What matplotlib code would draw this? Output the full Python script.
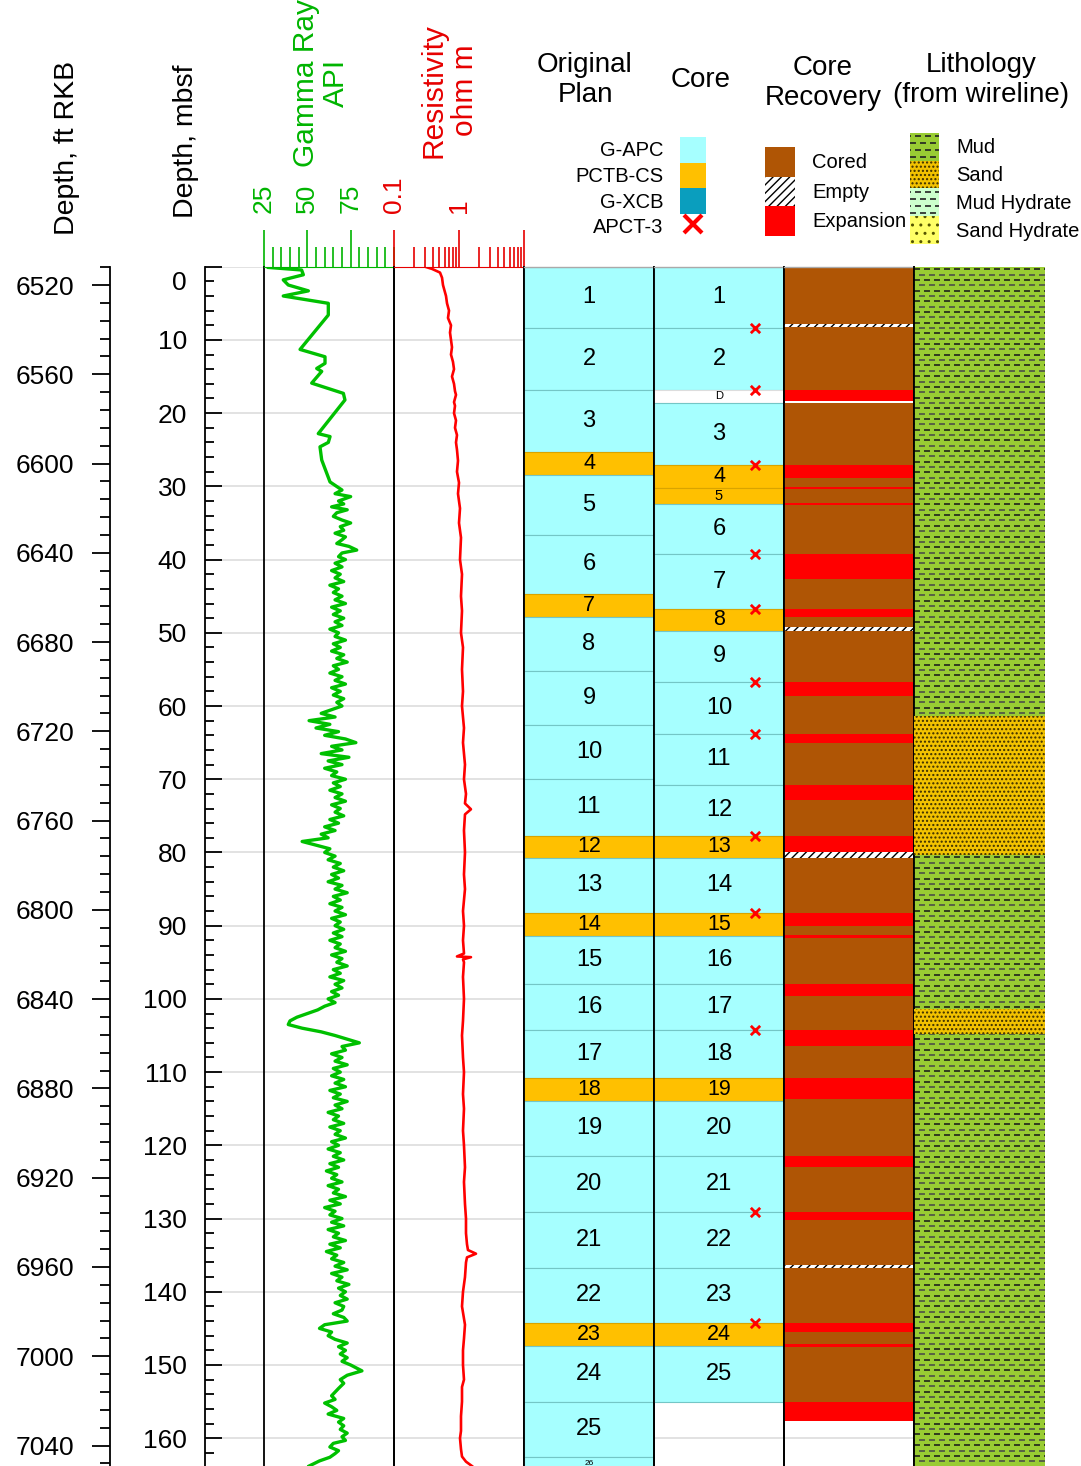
import numpy as np
import matplotlib
matplotlib.use('Agg')
import matplotlib.pyplot as plt
from matplotlib.patches import Patch, Rectangle
from matplotlib.lines import Line2D
from matplotlib.legend_handler import HandlerBase
from matplotlib.ticker import MultipleLocator, FixedLocator, FixedFormatter, LogLocator, NullFormatter, NullLocator, FuncFormatter

plt.rcParams['font.family'] = ['Liberation Sans', 'DejaVu Sans']
plt.rcParams['lines.scale_dashes'] = False
plt.rcParams['hatch.linewidth'] = 1.0

# ---- data (depth in mbsf) ----
# gamma ray log (API)
gr_depth = [0.1, 0.45, 1.1, 1.8, 2.5, 3.3, 4.0, 5.0, 6.6, 11.3, 12.3, 13.2, 13.9, 14.3, 15.9, 17.3, 18.2,
            22.8, 23.2, 24.0, 24.6, 26.4, 29.4, 30.0,
            30.5, 31.0, 31.4, 32.0, 32.4, 32.8, 33.2, 33.6, 34.1, 34.6, 35.0, 35.5, 36.0, 36.4, 36.9, 37.3, 37.8, 38.2, 38.7, 39.1, 39.6,
            40.0, 40.5, 41.0, 41.5, 42.0, 42.5, 43.0, 43.5, 44.0, 44.5, 45.0, 45.5, 46.0, 46.5, 47.0, 47.5, 48.0, 48.5, 49.0, 49.5,
            50.0, 50.5, 51.0, 51.5, 52.0, 52.5, 53.0, 53.5, 54.0, 54.5, 55.0, 55.5, 56.0, 56.5, 57.0, 57.5, 58.0, 58.5, 59.0, 59.5,
            60.0, 60.5, 61.0, 61.5, 62.0, 62.5, 63.0, 63.5, 64.0, 64.5, 65.0, 65.5, 66.0, 66.5, 67.0, 67.5, 68.0, 68.5, 69.0, 69.5,
            70.0, 70.5, 71.0, 71.5, 72.0, 72.5, 73.0, 73.5, 74.0, 74.5, 75.0, 75.5, 76.0, 76.5, 77.0, 77.5, 78.0, 78.5, 79.0, 79.5,
            80.0, 80.5, 81.0, 81.5, 82.0, 82.5, 83.0, 83.5, 84.0, 84.5, 85.0, 85.5, 86.0, 86.5, 87.0, 87.5, 88.0, 88.5, 89.0, 89.5,
            90.0, 90.5, 91.0, 91.5, 92.0, 92.5, 93.0, 93.5, 94.0, 94.5, 95.0, 95.5, 96.0, 96.5, 97.0, 97.5, 98.0, 98.5, 99.0, 99.5,
            100.0, 100.5, 101.0, 101.5, 102.0, 102.5, 103.0, 103.5, 104.0, 104.5, 105.0, 105.5, 106.0, 106.5, 107.0, 107.5, 108.0, 108.5, 109.0, 109.5,
            110.0, 110.5, 111.0, 111.5, 112.0, 112.5, 113.0, 113.5, 114.0, 114.5, 115.0, 115.5, 116.0, 116.5, 117.0, 117.5, 118.0, 118.5, 119.0, 119.5,
            120.0, 120.5, 121.0, 121.5, 122.0, 122.5, 123.0, 123.5, 124.0, 124.5, 125.0, 125.5, 126.0, 126.5, 127.0, 127.5, 128.0, 128.5, 129.0, 129.5,
            130.0, 130.5, 131.0, 131.5, 132.0, 132.5, 133.0, 133.5, 134.0, 134.5, 135.0, 135.5, 136.0, 136.5, 137.0, 137.5, 138.0, 138.5, 139.0, 139.5,
            140.0, 140.5, 141.0, 141.5, 142.0, 142.5, 143.0, 143.5, 144.0, 144.5, 145.0, 145.5, 146.0, 146.5, 147.0, 147.5, 148.0, 148.5, 149.0, 149.5,
            150.0, 150.8, 151.4, 152.0, 152.5, 153.2, 153.7, 154.2, 154.7, 155.2, 155.7, 156.2, 156.7, 157.3, 157.8, 158.3, 158.8, 159.3, 159.8,
            160.3, 160.7, 161.2, 161.7, 162.1, 162.6, 163.1, 163.8]
gr_api = [27.5, 46.7, 47.7, 36.1, 39.0, 50.6, 36.1, 62.1, 62.1, 45.8, 60.2, 60.2, 55.4, 58.3, 52.5, 70.8, 71.7,
          56.3, 63.1, 62.1, 57.3, 58.3, 63.1, 66.9,
          70, 66, 75, 68, 71, 64, 73, 67, 65, 70, 75, 69, 71, 66, 72, 70, 67, 74, 78.5, 70, 68,
          72, 66, 70, 64, 69, 66, 71, 63, 68, 65, 70, 66, 72, 64, 69, 65, 71, 66, 70, 63,
          68, 66, 72, 65, 69, 64, 71, 67, 73, 65, 68, 63, 70, 66, 72, 64, 69, 65, 71, 67,
          70, 64, 58, 66, 51, 63, 55, 68, 60, 72, 78, 64, 70, 58, 74, 62, 70, 60, 67, 64,
          72, 65, 69, 63, 70, 66, 72, 64, 69, 66, 71, 63, 68, 60, 66, 58, 62, 47, 55, 63,
          60, 66, 62, 69, 65, 71, 64, 68, 62, 70, 66, 73, 65, 69, 63, 70, 66, 72, 64, 69,
          66, 71, 65, 70, 63, 69, 66, 72, 64, 70, 67, 73, 65, 69, 63, 71, 66, 70, 64, 68,
          62, 66, 60, 56, 50, 44, 40, 39, 47, 58, 66, 73, 80, 70, 72, 64, 70, 66, 73, 65,
          69, 64, 71, 66, 72, 63, 69, 65, 73, 66, 70, 62, 68, 65, 71, 63, 69, 66, 72, 64,
          68, 62, 69, 65, 71, 63, 68, 61, 67, 64, 70, 62, 68, 65, 72, 63, 69, 60, 66, 63,
          70, 64, 71, 62, 68, 65, 72, 63, 69, 61, 67, 64, 71, 66, 73, 64, 70, 67, 74, 68,
          72, 69, 73, 66, 71, 70, 65, 71, 73, 60, 57, 64, 62, 66, 73, 68, 72, 69, 73, 70,
          75, 81.5, 73, 69, 71, 68, 66, 64, 66, 60, 64, 67, 62, 71, 68, 71, 69, 73, 70,
          72, 65, 63, 68, 66, 63, 57, 51]

# resistivity log (ohm m)
res_depth = [0.0, 0.3, 0.8, 1.5, 2.5, 4.0, 5.0, 6.0, 7.0, 8.0, 9.0, 10.0, 11.0, 12.0, 13.0, 14.0, 15.0, 16.0,
             17.0, 17.5, 18.5, 19.0, 20.0, 21.0, 22.0, 23.0, 24.0, 25.0, 26.5, 28.0, 29.5, 31.0, 33.0, 35.0,
             37.0, 40.0, 42.0, 45.0, 47.0, 50.0, 52.0, 55.0, 58.0, 60.0, 63.0, 65.0, 68.0, 70.0, 72.0, 73.3,
             74.1, 74.8, 77.0, 80.0, 83.0, 85.0, 88.0, 90.0, 92.0, 93.8, 94.2, 94.3, 94.6, 95.0, 97.0, 100.0,
             103.0, 105.0, 108.0, 110.0, 113.0, 115.0, 118.0, 120.0, 123.0, 125.0, 128.0, 130.0, 132.0, 133.5,
             134.3, 134.8, 135.3, 136.0, 138.0, 140.0, 142.0, 144.5, 146.4, 148.0, 150.0, 152.0, 153.0, 155.0,
             157.0, 159.0, 160.0, 161.5, 162.5, 163.2, 163.8]
res_ohm = [0.300, 0.384, 0.510, 0.548, 0.567, 0.631, 0.654, 0.702, 0.677, 0.753, 0.727, 0.753, 0.780, 0.753,
           0.808, 0.838, 0.780, 0.838, 0.868, 0.899, 0.838, 0.868, 0.838, 0.899, 0.868, 0.931, 0.899, 0.931,
           0.965, 0.931, 1.000, 0.965, 1.036, 1.000, 1.073, 1.036, 1.112, 1.073, 1.112, 1.073, 1.152, 1.112,
           1.152, 1.112, 1.193, 1.152, 1.236, 1.193, 1.281, 1.236, 1.528, 1.236, 1.193, 1.236, 1.193, 1.236,
           1.152, 1.193, 1.152, 1.193, 0.931, 1.528, 1.152, 1.193, 1.152, 1.193, 1.152, 1.112, 1.152, 1.193,
           1.152, 1.193, 1.152, 1.193, 1.236, 1.193, 1.236, 1.281, 1.281, 1.327, 1.374, 1.826, 1.327, 1.281,
           1.236, 1.152, 1.112, 1.236, 1.193, 1.152, 1.152, 1.193, 1.112, 1.112, 1.073, 1.073, 1.036, 1.073,
           1.112, 1.281, 1.583]

# original coring plan
plan_top = [0.0, 8.4, 16.8, 25.3, 28.4, 36.6, 44.7, 47.9, 55.2, 62.6, 70.0, 77.7, 80.7, 88.3, 91.4, 97.9,
            104.2, 110.8, 113.9, 121.5, 129.1, 136.7, 144.3, 147.4, 155.0, 162.5]
plan_bot = [8.4, 16.8, 25.3, 28.4, 36.6, 44.7, 47.9, 55.2, 62.6, 70.0, 77.7, 80.7, 88.3, 91.4, 97.9, 104.2,
            110.8, 113.9, 121.5, 129.1, 136.7, 144.3, 147.4, 155.0, 162.5, 170.0]
plan_tool = ['G-APC', 'G-APC', 'G-APC', 'PCTB-CS', 'G-APC', 'G-APC', 'PCTB-CS', 'G-APC', 'G-APC', 'G-APC',
             'G-APC', 'PCTB-CS', 'G-APC', 'PCTB-CS', 'G-APC', 'G-APC', 'G-APC', 'PCTB-CS', 'G-APC', 'G-APC',
             'G-APC', 'G-APC', 'PCTB-CS', 'G-APC', 'G-APC', 'G-APC']
plan_label = [str(i) for i in range(1, 27)]

# cores actually taken
core_top = [0.0, 8.4, 16.8, 18.6, 27.1, 30.2, 32.4, 39.3, 46.7, 49.7, 56.7, 63.8, 70.8, 77.7, 80.7, 88.3,
            91.4, 97.9, 104.2, 110.8, 113.9, 121.5, 129.1, 136.7, 144.3, 147.4]
core_bot = [8.4, 16.8, 18.6, 27.1, 30.2, 32.4, 39.3, 46.7, 49.7, 56.7, 63.8, 70.8, 77.7, 80.7, 88.3, 91.4,
            97.9, 104.2, 110.8, 113.9, 121.5, 129.1, 136.7, 144.3, 147.4, 155.0]
core_tool = ['G-APC', 'G-APC', 'drilled', 'G-APC', 'PCTB-CS', 'PCTB-CS', 'G-APC', 'G-APC', 'PCTB-CS', 'G-APC',
             'G-APC', 'G-APC', 'G-APC', 'PCTB-CS', 'G-APC', 'PCTB-CS', 'G-APC', 'G-APC', 'G-APC', 'PCTB-CS',
             'G-APC', 'G-APC', 'G-APC', 'G-APC', 'PCTB-CS', 'G-APC']
core_label = ['1', '2', 'D', '3', '4', '5', '6', '7', '8', '9', '10', '11', '12', '13', '14', '15', '16',
              '17', '18', '19', '20', '21', '22', '23', '24', '25']
apct3_depth = [8.4, 16.8, 27.1, 39.3, 46.7, 56.7, 63.8, 77.7, 88.3, 104.2, 129.1, 144.3]

# core recovery
exp_top = [16.8, 27.1, 30.1, 32.3, 39.3, 46.7, 56.7, 63.8, 70.8, 77.7, 88.3, 91.3, 97.9, 104.2, 110.8,
           121.5, 129.1, 144.3, 147.2, 155.0]
exp_bot = [18.3, 28.8, 30.3, 32.5, 42.7, 47.8, 58.6, 65.0, 72.9, 79.9, 90.1, 91.7, 99.6, 106.4, 113.7,
           123.0, 130.2, 145.5, 147.6, 157.7]
empty_top = [7.8, 49.2, 79.9, 136.3]
empty_bot = [8.3, 49.7, 80.7, 136.7]

# lithology from wireline
sand_top = [61.3, 101.4]
sand_bot = [80.4, 104.8]

# ---- layout (pixels of the 1081 x 1466 canvas) ----
W, H = 1081, 1466
TOP = 266.7
PX_PER_M = 7.322
DMAX = (H - TOP) / PX_PER_M
FT0 = 6511.8          # ft RKB at 0 mbsf
M2FT = 3.28084

C_APC = '#A6FFFF'
C_PCTB = '#FFC000'
C_XCB = '#0A9EBE'
C_CORED = '#AF5505'
C_EXP = '#FF0000'
C_MUD = '#99CC33'
C_SAND = '#F2C200'
C_MUDHYD = '#CCFFCC'
C_SANDHYD = '#FFFF66'
GREEN = '#00B400'
RED = '#E60000'
tool_color = {'G-APC': C_APC, 'PCTB-CS': C_PCTB, 'G-XCB': C_XCB, 'drilled': 'white'}
tool_edge = {'G-APC': '#74C6C6', 'PCTB-CS': '#D9A400', 'G-XCB': '#087890', 'drilled': '#DDDDDD'}

fig = plt.figure(figsize=(W / 100, H / 100), dpi=100)


def track(x0, x1):
    return fig.add_axes([x0 / W, 0, (x1 - x0) / W, (H - TOP) / H])


# depth axis + grid behind everything
ax_m = track(205, 914)
ax_m.set_facecolor('none')
ax_m.set_ylim(DMAX, 0)
ax_m.set_xlim(0, 1)
for s in ['top', 'right', 'bottom']:
    ax_m.spines[s].set_visible(False)
ax_m.spines['left'].set_linewidth(1.3)
ax_m.xaxis.set_major_locator(NullLocator())
ax_m.yaxis.set_major_locator(MultipleLocator(10))
ax_m.yaxis.set_minor_locator(MultipleLocator(2))
ax_m.yaxis.set_major_formatter(FuncFormatter(lambda v, p: '' if v == 0 else f'{v:.0f}'))
ax_m.tick_params(axis='y', which='major', direction='in', length=12, width=1.3, labelsize=19, pad=13)
ax_m.tick_params(axis='y', which='minor', direction='in', length=6.5, width=1.3)
ax_m.grid(axis='y', which='major', color='#DDDDDD', lw=1.2)
ax_m.annotate('0', xy=(0, 0), xycoords=('axes fraction', 'data'), xytext=(-13, -11.5),
              textcoords='offset points', ha='right', va='center', fontsize=19)

ax_ft = ax_m.secondary_yaxis((110 - 205) / (914 - 205),
                             functions=(lambda m: FT0 + m * M2FT, lambda f: (f - FT0) / M2FT))
ax_ft.yaxis.set_major_locator(MultipleLocator(40))
ax_ft.yaxis.set_minor_locator(MultipleLocator(8))
ax_ft.tick_params(axis='y', which='major', direction='out', length=13, width=1.3, labelsize=19, pad=13)
ax_ft.tick_params(axis='y', which='minor', direction='out', length=7, width=1.3)
ax_ft.spines['left'].set_linewidth(1.3)

# gamma ray track
ax_gr = track(264, 394)
ax_gr.set_facecolor('none')
ax_gr.plot(gr_api, gr_depth, color='#00C000', lw=2.4)
ax_gr.set_xlim(25, 100)
ax_gr.set_ylim(DMAX, 0)
ax_gr.xaxis.tick_top()
ax_gr.xaxis.set_major_locator(FixedLocator([25, 50, 75]))
ax_gr.xaxis.set_minor_locator(MultipleLocator(5))
ax_gr.tick_params(axis='x', which='both', direction='out', colors=GREEN, width=1.2,
                  labelsize=19, labelrotation=90, pad=12)
ax_gr.tick_params(axis='x', which='major', length=26.6)
ax_gr.tick_params(axis='x', which='minor', length=14.4)
ax_gr.yaxis.set_major_locator(NullLocator())
ax_gr.spines['top'].set_color(GREEN)
ax_gr.spines['bottom'].set_visible(False)
for s in ['left', 'right']:
    ax_gr.spines[s].set_linewidth(1.3)

# resistivity track
ax_res = track(394, 524)
ax_res.set_facecolor('none')
ax_res.plot(res_ohm, res_depth, color='#FF0000', lw=1.9)
ax_res.set_xscale('log')
ax_res.set_xlim(0.1, 10)
ax_res.set_ylim(DMAX, 0)
ax_res.xaxis.tick_top()
ax_res.xaxis.set_major_locator(FixedLocator([0.1, 1, 10]))
ax_res.xaxis.set_major_formatter(FixedFormatter(['0.1', '1', '']))
ax_res.xaxis.set_minor_locator(LogLocator(base=10, subs=np.arange(2, 10)))
ax_res.xaxis.set_minor_formatter(NullFormatter())
ax_res.tick_params(axis='x', which='both', direction='out', colors=RED, width=1.2,
                   labelsize=19, labelrotation=90, pad=12)
ax_res.tick_params(axis='x', which='major', length=26.6)
ax_res.tick_params(axis='x', which='minor', length=14.4)
ax_res.yaxis.set_major_locator(NullLocator())
ax_res.spines['top'].set_color(RED)
ax_res.spines['bottom'].set_visible(False)
for s in ['left', 'right']:
    ax_res.spines[s].set_linewidth(1.3)


def column(x0, x1):
    ax = track(x0, x1)
    ax.set_facecolor('none')
    ax.set_xlim(0, 1)
    ax.set_ylim(DMAX, 0)
    ax.set_xticks([])
    ax.set_yticks([])
    ax.spines['bottom'].set_visible(False)
    ax.spines['top'].set_color('#AAAAAA')
    ax.spines['top'].set_linewidth(1)
    for s in ['left', 'right']:
        ax.spines[s].set_linewidth(1.3)
    return ax


def label_size(top, bot, tool):
    if tool == 'drilled':
        return 8
    if bot - top < 2.6:
        return 10.5
    return 17 if tool == 'G-APC' else 15.5


# original plan
ax_plan = column(524, 654)
ax_plan.bar(0.5, np.subtract(plan_bot, plan_top), bottom=plan_top, width=1,
            color=[tool_color[t] for t in plan_tool], edgecolor=[tool_edge[t] for t in plan_tool], lw=0.8)
for t, b, tool, lab in zip(plan_top, plan_bot, plan_tool, plan_label):
    mid = (t + b) / 2
    if mid > DMAX:
        ax_plan.text(0.5, t + 0.5, lab, ha='center', va='top', fontsize=6)
    else:
        ax_plan.text(0.5, mid, lab, ha='center', va='center', fontsize=label_size(t, b, tool))

# cores taken
ax_core = column(654, 784)
ax_core.bar(0.5, np.subtract(core_bot, core_top), bottom=core_top, width=1,
            color=[tool_color[t] for t in core_tool], edgecolor=[tool_edge[t] for t in core_tool], lw=0.8)
for t, b, tool, lab in zip(core_top, core_bot, core_tool, core_label):
    ax_core.text(0.5, (t + b) / 2, lab, ha='center', va='center', fontsize=label_size(t, b, tool))
ax_core.scatter([0.78] * len(apct3_depth), apct3_depth, marker='x', color='#FF0000', s=45, lw=2, zorder=3)

# core recovery
ax_rec = column(784, 914)
cored = [i for i, t in enumerate(core_tool) if t != 'drilled']
ax_rec.bar(0.5, [core_bot[i] - core_top[i] for i in cored], bottom=[core_top[i] for i in cored],
           width=1, color=C_CORED, lw=0)
ax_rec.bar(0.5, np.subtract(exp_bot, exp_top), bottom=exp_top, width=1, color=C_EXP, lw=0)
ax_rec.bar(0.5, np.subtract(empty_bot, empty_top), bottom=empty_top, width=1, color='white',
           edgecolor='black', hatch='////', lw=0)

# lithology
ax_lith = column(914, 1045)
ax_lith.spines['right'].set_visible(False)
ax_lith.spines['top'].set_visible(False)
ax_lith.bar(0.5, DMAX + 5, bottom=0, width=1, color=C_MUD, lw=0, zorder=1)
rows = np.arange(0.35, DMAX + 1, 0.73)
ax_lith.hlines(rows[::2], 0, 1, colors='#1A1A1A', lw=1.15, linestyles=[(0, (4.3, 2.9))], zorder=2)
ax_lith.hlines(rows[1::2], 0, 1, colors='#4A4A4A', lw=1.15, linestyles=[(3.6, (4.3, 2.9))], zorder=2)
ax_lith.bar(0.5, np.subtract(sand_bot, sand_top), bottom=sand_top, width=1, color=C_SAND,
            edgecolor='#3A2E00', hatch='....', lw=0, zorder=3)

# ---- headers ----
def fx(px):
    return px / W


def fy(py):
    return 1 - py / H


fig.text(fx(67), fy(235), 'Depth, ft RKB', rotation=90, ha='center', va='bottom', fontsize=20.5)
fig.text(fx(186), fy(218), 'Depth, mbsf', rotation=90, ha='center', va='bottom', fontsize=20.5)
fig.text(fx(321), fy(167), 'Gamma Ray\nAPI', rotation=90, ha='center', va='bottom', fontsize=21.5,
         color=GREEN, multialignment='center', linespacing=1.12)
fig.text(fx(449), fy(158), 'Resistivity\nohm m', rotation=90, ha='center', va='bottom', fontsize=21.5,
         color=RED, multialignment='center', linespacing=1.15)
fig.text(fx(585), fy(80), 'Original\nPlan', ha='center', va='center', fontsize=20, linespacing=1.2)
fig.text(fx(701), fy(80), 'Core', ha='center', va='center', fontsize=20)
fig.text(fx(823), fy(83), 'Core\nRecovery', ha='center', va='center', fontsize=20, linespacing=1.2)
fig.text(fx(981), fy(80), 'Lithology\n(from wireline)', ha='center', va='center', fontsize=20,
         linespacing=1.2)


# ---- legends ----
class LithHandler(HandlerBase):
    def __init__(self, dashed):
        super().__init__()
        self.dashed = dashed

    def create_artists(self, legend, orig, xd, yd, w, h, fontsize, trans):
        arts = [Rectangle((-xd, -yd), w, h, facecolor=orig.get_facecolor(), hatch=orig.get_hatch(),
                          edgecolor=orig.get_edgecolor(), lw=0, transform=trans)]
        if self.dashed:
            for k in range(4):
                yy = -yd + h * (k + 0.5) / 4
                arts.append(Line2D([-xd, -xd + w], [yy, yy], color='#222222', lw=1.2,
                                   ls=(3.6 * (k % 2), (4.3, 2.9)), transform=trans))
        return arts


tool_handles = [Patch(facecolor=C_APC, lw=0), Patch(facecolor=C_PCTB, lw=0), Patch(facecolor=C_XCB, lw=0),
                Line2D([], [], marker='x', color='#FF0000', markersize=13, mew=3, ls='none')]
fig.legend(tool_handles, ['G-APC', 'PCTB-CS', 'G-XCB', 'APCT-3'], loc='upper right',
           bbox_to_anchor=(fx(706), fy(137)), frameon=False, markerfirst=False, fontsize=14.5,
           handlelength=1.3, handleheight=1.58, labelspacing=0, handletextpad=0.8,
           borderpad=0, borderaxespad=0)

rec_handles = [Patch(facecolor=C_CORED, lw=0),
               Patch(facecolor='white', edgecolor='black', hatch='////', lw=0),
               Patch(facecolor=C_EXP, lw=0)]
fig.legend(rec_handles, ['Cored', 'Empty', 'Expansion'], loc='upper left',
           bbox_to_anchor=(fx(765), fy(147)), frameon=False, fontsize=14.5,
           handlelength=1.5, handleheight=1.88, labelspacing=0, handletextpad=0.85,
           borderpad=0, borderaxespad=0)

mud_h = Patch(facecolor=C_MUD, lw=0)
sand_h = Patch(facecolor=C_SAND, edgecolor='#3A2E00', hatch='....', lw=0)
mudhyd_h = Patch(facecolor=C_MUDHYD, lw=0)
sandhyd_h = Patch(facecolor=C_SANDHYD, edgecolor='#555500', hatch='..', lw=0)
fig.legend([mud_h, sand_h, mudhyd_h, sandhyd_h], ['Mud', 'Sand', 'Mud Hydrate', 'Sand Hydrate'],
           loc='upper left', bbox_to_anchor=(fx(910), fy(133)), frameon=False, fontsize=14.5,
           handlelength=1.45, handleheight=1.74, labelspacing=0, handletextpad=0.85,
           borderpad=0, borderaxespad=0,
           handler_map={mud_h: LithHandler(True), mudhyd_h: LithHandler(True),
                        sand_h: LithHandler(False), sandhyd_h: LithHandler(False)})

fig.savefig('out.png', dpi=100)
